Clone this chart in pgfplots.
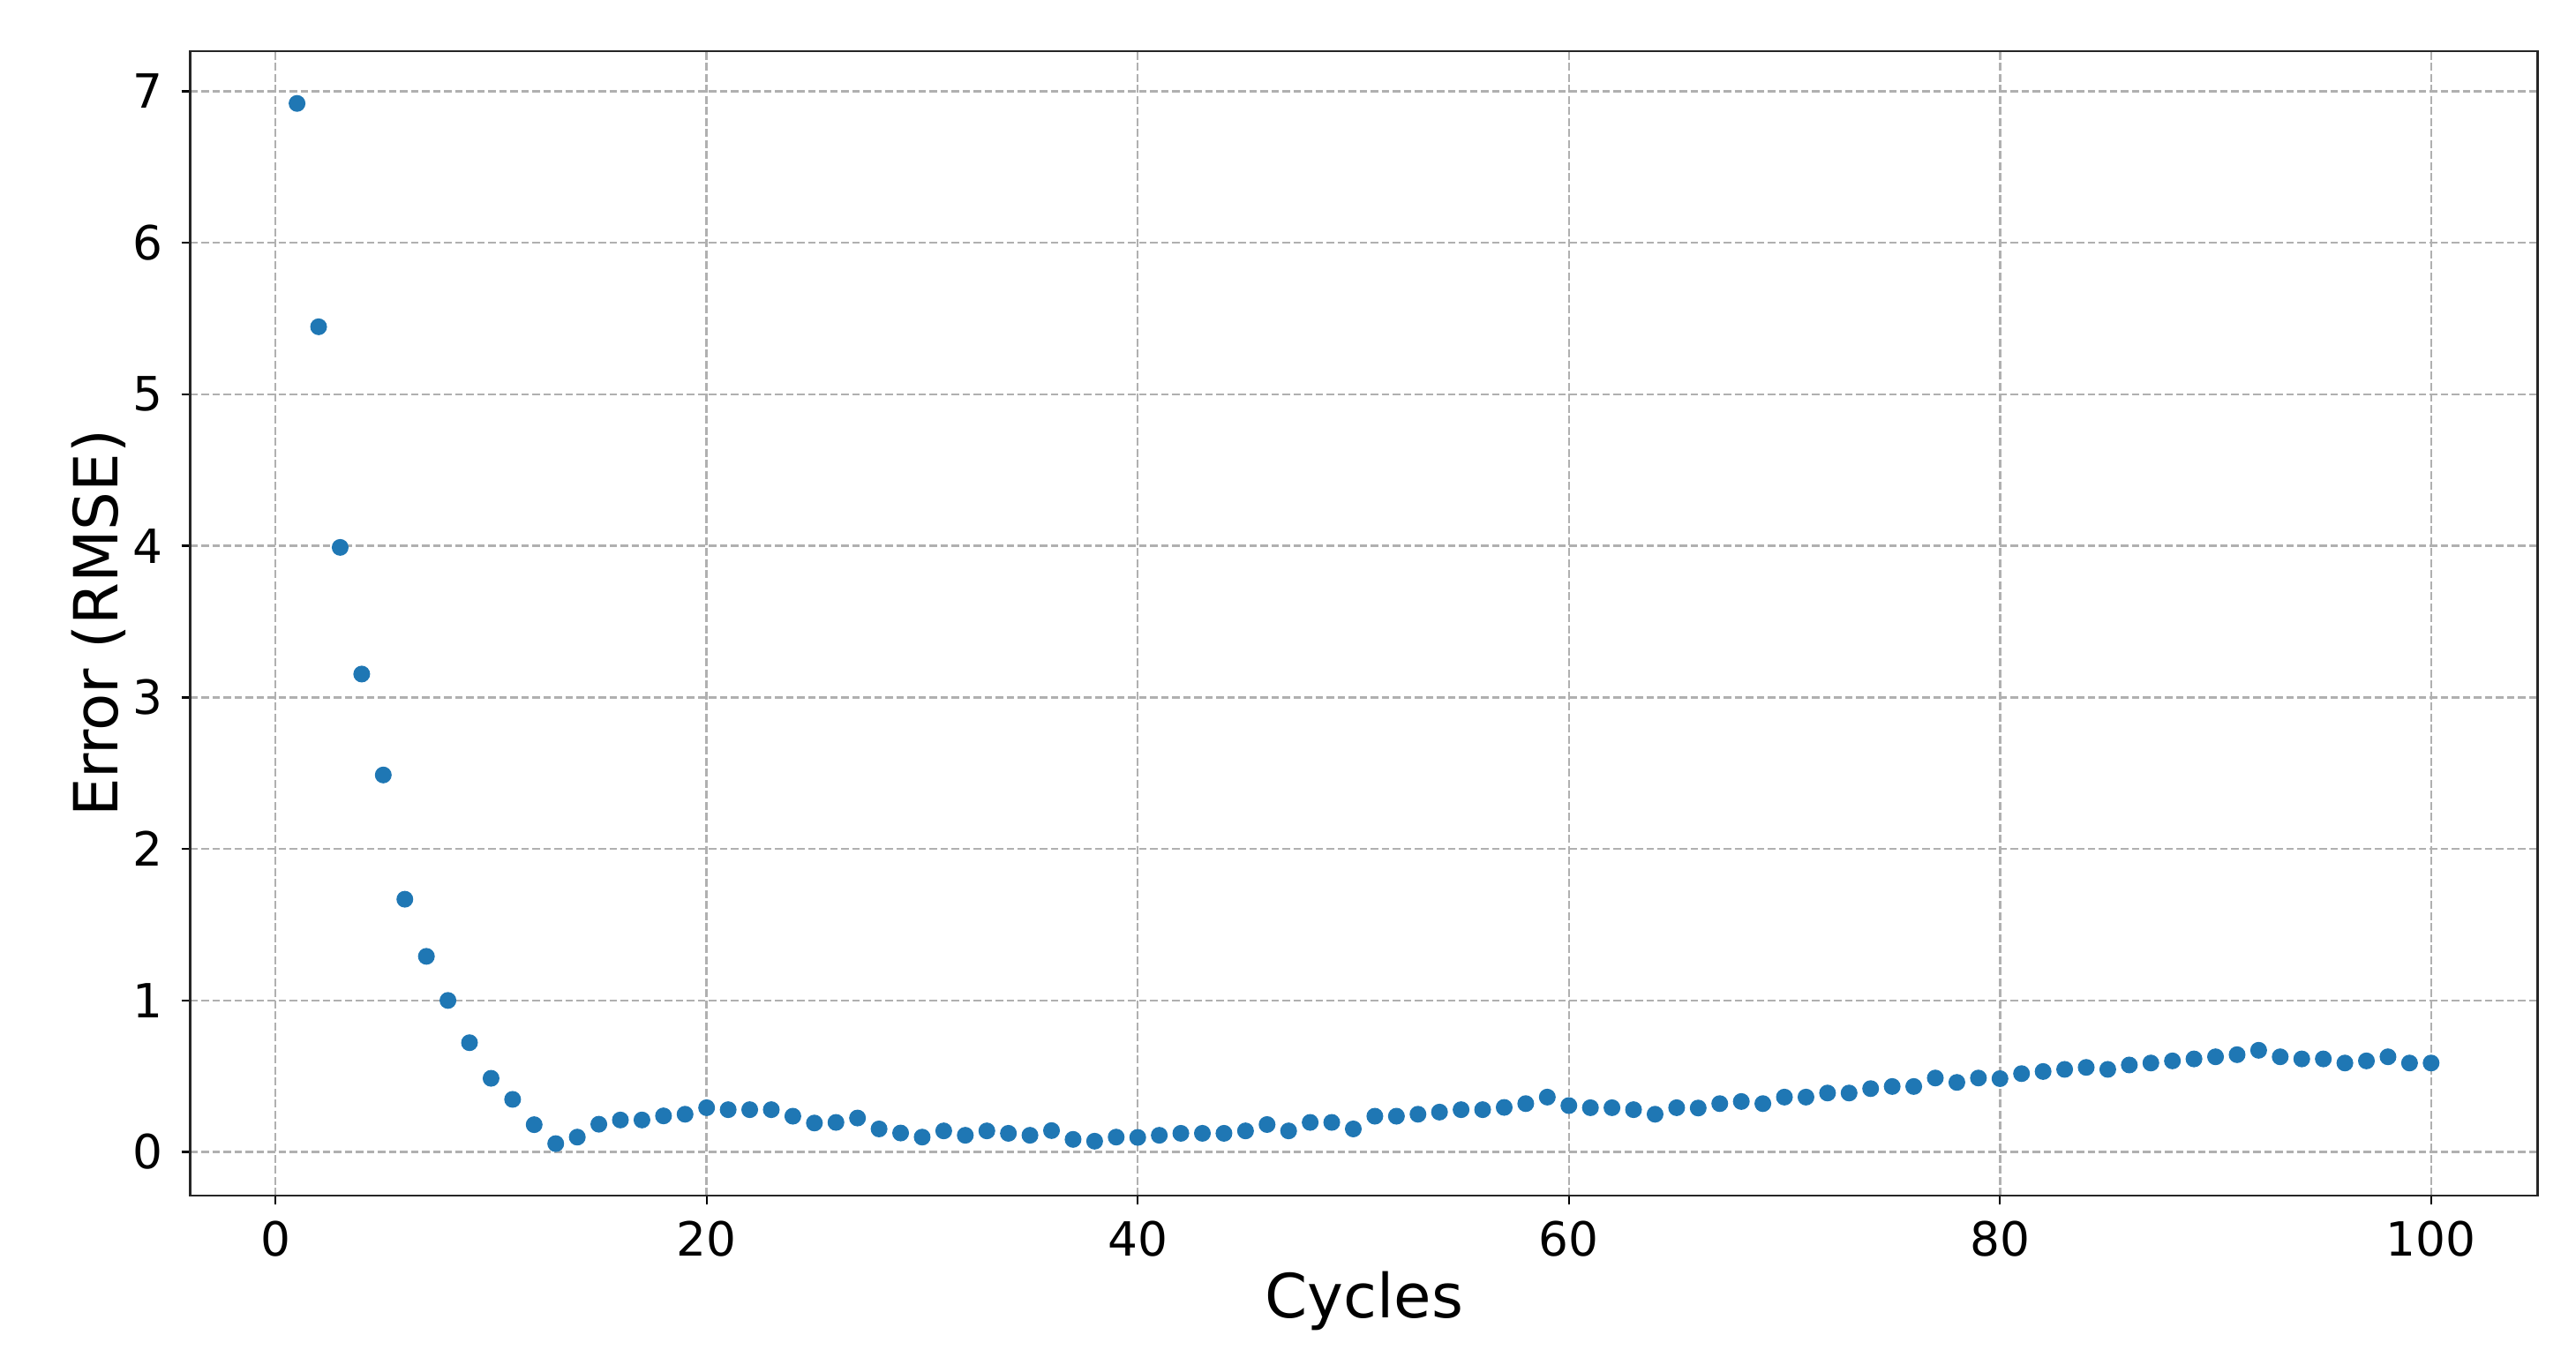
\documentclass[border=0pt]{standalone}
\usepackage{fontspec}
\setmainfont{DejaVu Sans}
\usepackage{pgfplots}
\pgfplotsset{compat=1.18}
\definecolor{mplblue}{HTML}{1F77B4}
\definecolor{gridgray}{HTML}{B0B0B0}
\begin{document}
\begin{tikzpicture}
\path[use as bounding box] (0,0) rectangle (875.7pt,463.8pt);
\begin{axis}[
  at={(64.71pt,57.3pt)}, anchor=south west,
  scale only axis, width=798pt, height=389.1pt,
  xmin=-3.95, xmax=104.95, ymin=-0.288, ymax=7.265,
  xtick={0,20,40,60,80,100}, ytick={0,1,2,3,4,5,6,7},
  tick align=outside, major tick length=3.06pt,
  tick style={line width=0.7pt, black},
  axis line style={line width=0.75pt, black!85},
  xtick pos=bottom, ytick pos=left,
  grid=major,
  major grid style={line width=0.75pt, gridgray, dash pattern=on 2.6pt off 1.15pt},
  /pgf/number format/assume math mode=true,
  ticklabel style={font=\fontsize{16}{19.2}\selectfont},
  xticklabel style={inner sep=0pt, anchor=north, yshift=-5.4pt},
  yticklabel style={inner sep=0pt, anchor=east, xshift=-6.0pt},
  label style={font=\fontsize{20.7}{24.8}\selectfont},
  xlabel={Cycles}, ylabel={Error (RMSE)},
  xlabel style={at={(axis description cs:0.5,-0.1064)}, anchor=base, inner sep=0pt},
  ylabel style={at={(axis description cs:-0.031,0.5)}, anchor=base, inner sep=0pt, rotate=0},
]
\addplot[only marks, mark=*, mark size=2.65pt, mplblue, mark options={draw=none, fill=mplblue}] coordinates {
(1,6.92) (2,5.446) (3,3.99) (4,3.154) (5,2.488) (6,1.668) (7,1.291) (8,1.00) (9,0.721) (10,0.486)
(11,0.347) (12,0.180) (13,0.055) (14,0.098) (15,0.183) (16,0.211) (17,0.211) (18,0.238) (19,0.249) (20,0.292)
(21,0.279) (22,0.279) (23,0.279) (24,0.236) (25,0.191) (26,0.195) (27,0.224) (28,0.152) (29,0.125) (30,0.098)
(31,0.139) (32,0.110) (33,0.139) (34,0.123) (35,0.110) (36,0.141) (37,0.083) (38,0.071) (39,0.098) (40,0.096)
(41,0.110) (42,0.123) (43,0.123) (44,0.123) (45,0.139) (46,0.181) (47,0.139) (48,0.195) (49,0.195) (50,0.152)
(51,0.236) (52,0.236) (53,0.249) (54,0.263) (55,0.279) (56,0.279) (57,0.294) (58,0.319) (59,0.362) (60,0.306)
(61,0.292) (62,0.292) (63,0.279) (64,0.249) (65,0.292) (66,0.290) (67,0.319) (68,0.333) (69,0.319) (70,0.362)
(71,0.362) (72,0.389) (73,0.389) (74,0.418) (75,0.432) (76,0.432) (77,0.488) (78,0.459) (79,0.488) (80,0.484)
(81,0.517) (82,0.531) (83,0.545) (84,0.558) (85,0.545) (86,0.574) (87,0.587) (88,0.601) (89,0.614) (90,0.628)
(91,0.642) (92,0.671) (93,0.628) (94,0.614) (95,0.614) (96,0.587) (97,0.601) (98,0.628) (99,0.587) (100,0.587)
};
\end{axis}
\end{tikzpicture}
\end{document}
